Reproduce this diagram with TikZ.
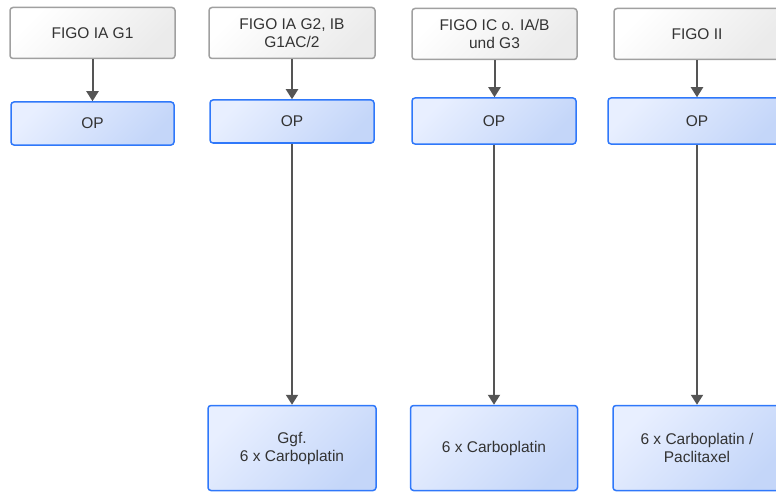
\documentclass[tikz,border=0pt]{standalone}
\usepackage{fontspec}
\setmainfont{Liberation Sans}
\usepackage{xcolor}
\usepackage{tikz}
\usetikzlibrary{shapes,arrows,positioning,calc,arrows.meta}

\definecolor{stagegray}{HTML}{A0A0A0}
\definecolor{opblue}{HTML}{2F78FA}
\definecolor{oplight}{HTML}{E8EFFF}
\definecolor{opdark}{HTML}{C4D6F9}
\definecolor{arrowgray}{HTML}{555555}
\definecolor{textgray}{HTML}{333333}

\tikzset{
    box/.style={rounded corners=3pt, line width=1.5pt, align=center,
        text=textgray, font=\fontsize{15.5}{18}\selectfont, inner sep=0pt},
    stage/.style={box, draw=stagegray, top color=white, bottom color=black!8,
        shading angle=45, minimum height=51pt},
    therapy/.style={box, draw=opblue, top color=oplight, bottom color=opdark,
        shading angle=45},
    flow/.style={draw=arrowgray, line width=2pt,
        -{Triangle[width=12pt,length=10pt]}}
}

\begin{document}
\begin{tikzpicture}[x=1pt,y=-1pt]
    \useasboundingbox (0,0) rectangle (776,492);
    \clip (0,0) rectangle (776,492);
    % stages
    \node[stage, minimum width=165pt] (h1) at (92.5,33) {FIGO IA G1};
    \node[stage, minimum width=166pt] (h2) at (292,33) {FIGO IA G2, IB\\G1AC/2};
    \node[stage, minimum width=165pt] (h3) at (494.5,34) {FIGO IC o. IA/B\\und G3};
    \node[stage, minimum width=166pt] (h4) at (697,34) {FIGO II};
    % surgery
    \node[therapy, minimum width=163pt, minimum height=43pt] (o1) at (92.5,123.5) {OP};
    \node[therapy, minimum width=164pt, minimum height=43pt] (o2) at (292,121.5) {OP};
    \node[therapy, minimum width=164pt, minimum height=46pt] (o3) at (494,121) {OP};
    \node[therapy, minimum width=178pt, minimum height=46pt] (o4) at (697,121) {OP};
    % chemo
    \node[therapy, minimum width=168pt, minimum height=85pt] (b2) at (292,448) {Ggf.\\6 x Carboplatin};
    \node[therapy, minimum width=167pt, minimum height=85pt] (b3) at (494,448) {6 x Carboplatin};
    \node[therapy, minimum width=168pt, minimum height=85pt] (b4) at (697,448) {6 x Carboplatin /\\Paclitaxel};
    % arrows
    \foreach \a/\b in {h1/o1, h2/o2, h3/o3, h4/o4, o2/b2, o3/b3, o4/b4}
        \draw[flow] (\a.south) -- (\a.south |- \b.north);
\end{tikzpicture}
\end{document}
